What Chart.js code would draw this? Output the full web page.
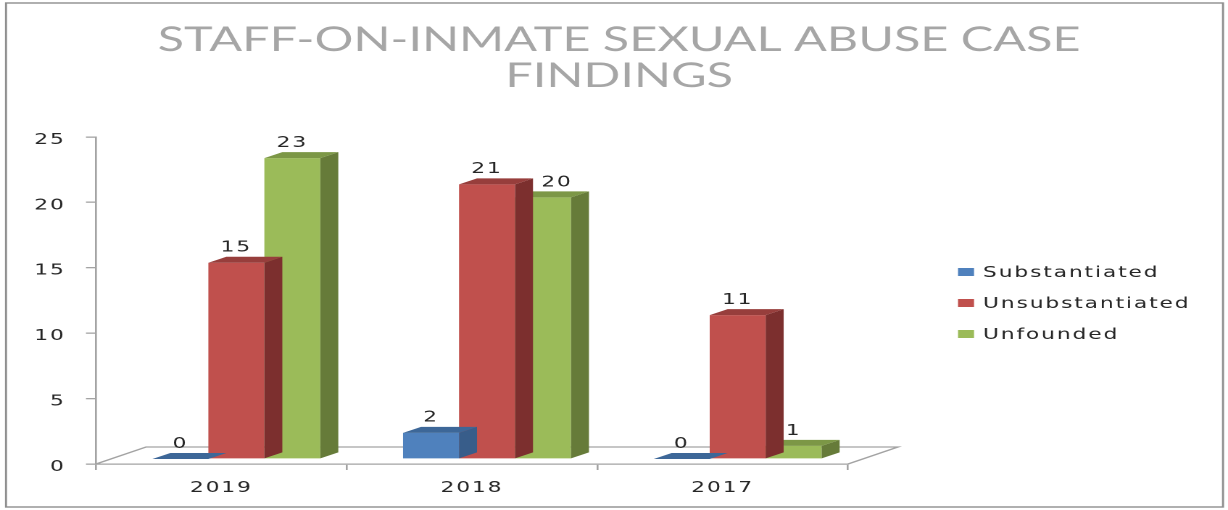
<!DOCTYPE html>
<html>
<head>
<meta charset="utf-8">
<script src="https://cdn.jsdelivr.net/npm/chart.js@4.4.1/dist/chart.umd.min.js"></script>
<style>
  html, body { margin: 0; padding: 0; background: #fff; }
  #chart { display: block; }
</style>
</head>
<body>
<!-- the source picture is an Excel 3D column chart stretched sideways, so the canvas is drawn narrow and widened by css -->
<canvas id="chart" width="847" height="510" style="width:1228px;height:510px"></canvas>
<script>
const categories = ['2019', '2018', '2017'];
const seriesNames = ['Substantiated', 'Unsubstantiated', 'Unfounded'];
const substantiated = [0, 2, 0];
const unsubstantiated = [15, 21, 11];
const unfounded = [23, 20, 1];
const yMin = 0, yMax = 25, yStep = 5;
const titleLines = ['STAFF-ON-INMATE SEXUAL ABUSE CASE', 'FINDINGS'];

const STRETCH = 1228 / 847;
const sx = v => v / STRETCH;   // screen px -> canvas px (horizontal only)

const frontColors = ['#4f81bd', '#c0504d', '#9bbb59'];
const topColors = ['#3d6798', '#973e3c', '#7c9746'];
const sideColors = ['#385d8a', '#7c2f2e', '#667b39'];
const textColor = '#262626';
const axisColor = '#a3a3a3';
const textFont = { family: 'DejaVu Sans', size: 15 };

const barShift = { dx: sx(15), dy: -5 };
const barDepth = { dx: sx(18), dy: -6 };
const floorDepth = { dx: sx(50), dy: -17 };
const padLeft = 7;

const threeD = {
  id: 'threeD',
  beforeDraw(chart) {
    const ctx = chart.ctx;
    ctx.letterSpacing = '0px';   // title is drawn plain
    // outer frame
    ctx.save();
    ctx.strokeStyle = '#8e8e8e';
    ctx.lineWidth = 1.4;
    ctx.strokeRect(sx(6), 3, sx(1223) - sx(6), 504);
    ctx.restore();
  },
  beforeDatasetsDraw(chart) {
    const {ctx, chartArea: a, scales: {y}} = chart;
    ctx.letterSpacing = '1.3px'; // wide look for labels, ticks (z:1) and legend
    const base = y.getPixelForValue(0);
    ctx.save();
    ctx.strokeStyle = axisColor;
    ctx.lineWidth = 1.3;
    ctx.beginPath();
    ctx.moveTo(a.left, base);
    ctx.lineTo(a.left + floorDepth.dx, base + floorDepth.dy);
    ctx.lineTo(a.right + floorDepth.dx, base + floorDepth.dy);
    ctx.lineTo(a.right, base);
    ctx.stroke();
    ctx.restore();
    ctx.save();
    ctx.translate(barShift.dx, barShift.dy);
  },
  afterDatasetDraw(chart, args) {
    const ctx = chart.ctx;
    const i = args.index;
    args.meta.data.forEach(bar => {
      const {x, y, base, width} = bar.getProps(['x', 'y', 'base', 'width'], true);
      const l = x - width / 2, r = x + width / 2;
      ctx.fillStyle = sideColors[i];
      ctx.beginPath();
      ctx.moveTo(r, y);
      ctx.lineTo(r + barDepth.dx, y + barDepth.dy);
      ctx.lineTo(r + barDepth.dx, base + barDepth.dy);
      ctx.lineTo(r, base);
      ctx.closePath();
      ctx.fill();
      ctx.fillStyle = topColors[i];
      ctx.beginPath();
      ctx.moveTo(l, y);
      ctx.lineTo(r, y);
      ctx.lineTo(r + barDepth.dx, y + barDepth.dy);
      ctx.lineTo(l + barDepth.dx, y + barDepth.dy);
      ctx.closePath();
      ctx.fill();
    });
  },
  afterDatasetsDraw(chart) {
    const ctx = chart.ctx;
    ctx.fillStyle = textColor;
    ctx.font = textFont.size + 'px "' + textFont.family + '"';
    ctx.textAlign = 'center';
    ctx.textBaseline = 'middle';
    chart.data.datasets.forEach((ds, i) => {
      const meta = chart.getDatasetMeta(i);
      meta.data.forEach((bar, j) => {
        let nudge = 0;
        // label next to a slightly taller neighbour gets pushed aside
        if (i > 0) {
          const prev = chart.data.datasets[i - 1].data[j];
          if (prev > ds.data[j] && prev - ds.data[j] < 3) nudge = sx(14);
        }
        ctx.fillText(String(ds.data[j]), bar.x + nudge, bar.y - 15);
      });
    });
    ctx.restore();
  },
  afterDraw(chart) {
    const ctx = chart.ctx;
    ctx.save();
    ctx.font = textFont.size + 'px "' + textFont.family + '"';
    ctx.textAlign = 'left';
    ctx.textBaseline = 'middle';
    seriesNames.forEach((name, i) => {
      const cy = 272 + i * 31;
      ctx.fillStyle = frontColors[i];
      ctx.fillRect(sx(958), cy - 4, sx(958 + 16) - sx(958), 8);
      ctx.fillStyle = textColor;
      ctx.fillText(name, sx(983), cy + 1);
    });
    ctx.restore();
  }
};

const seriesValues = [substantiated, unsubstantiated, unfounded];

const chart = new Chart(document.getElementById('chart'), {
  type: 'bar',
  data: {
    labels: categories,
    datasets: seriesNames.map((name, i) => ({
      label: name,
      data: seriesValues[i],
      backgroundColor: frontColors[i],
      borderWidth: 0,
      clip: false,
      categoryPercentage: 0.67,
      barPercentage: 1.0
    }))
  },
  options: {
    responsive: false,
    animation: false,
    devicePixelRatio: 2,
    layout: {
      padding: { top: 22, left: padLeft, right: 0, bottom: 6 }
    },
    plugins: {
      legend: { display: false },
      tooltip: { enabled: false },
      title: {
        display: true,
        text: titleLines,
        color: '#a6a6a6',
        font: { family: 'Lato', size: 33.5, weight: 'normal', lineHeight: '36px' },
        padding: { top: 0, bottom: 43 }
      }
    },
    scales: {
      x: {
        grid: { drawOnChartArea: false, drawTicks: true, tickLength: 6, offset: true, color: axisColor, lineWidth: 1.3 },
        border: { color: axisColor, width: 1.3 },
        ticks: { color: textColor, font: textFont, padding: 9, z: 1 },
        afterFit(scale) { scale.height = 40; }
      },
      y: {
        min: yMin,
        max: yMax,
        grid: { drawOnChartArea: false, drawTicks: true, tickLength: sx(10), color: axisColor, lineWidth: 1.3 },
        border: { color: axisColor, width: 1.3 },
        ticks: { stepSize: yStep, color: textColor, font: textFont, padding: 14, labelOffset: 3, z: 1 },
        afterFit(scale) { scale.width = sx(96) - padLeft; }
      },
      // empty right-hand axis only reserves the room where the legend sits
      legendRoom: {
        type: 'linear',
        position: 'right',
        display: true,
        grid: { display: false },
        border: { display: false },
        ticks: { display: false },
        afterFit(scale) { scale.width = 847 - sx(848); }
      }
    }
  },
  plugins: [threeD]
});
</script>
</body>
</html>
